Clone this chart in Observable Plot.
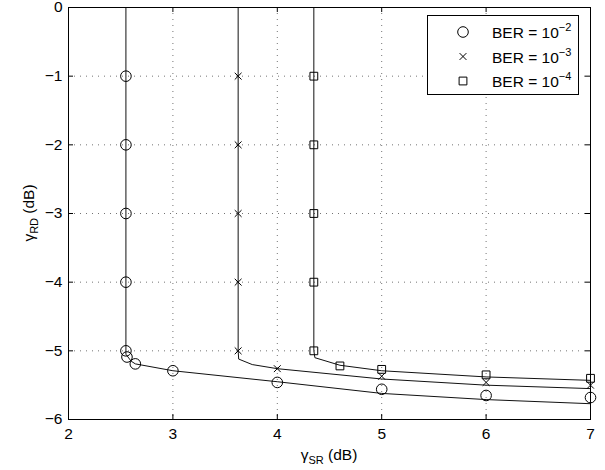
<!DOCTYPE html>
<html>
<head>
<meta charset="utf-8">
<script src="https://cdn.jsdelivr.net/npm/d3@7"></script>
<script src="https://cdn.jsdelivr.net/npm/@observablehq/plot@0.6"></script>
<style>
  html, body { margin: 0; padding: 0; background: #fff; }
  #chart svg { display: block; }
</style>
</head>
<body>
<div id="chart"></div>
<script>
// ---- data ----
const xTicks = [2, 3, 4, 5, 6, 7];
const yTicks = [-6, -5, -4, -3, -2, -1, 0];
const seriesNames = ["BER = 10^-2", "BER = 10^-3", "BER = 10^-4"];
const legendBase = ["BER = 10", "BER = 10", "BER = 10"];
const legendExp = ["\u22122", "\u22123", "\u22124"];
const symbols = ["circle", "times", "square"];

// theoretical curves
const line1X = [2.55, 2.55, 2.6, 2.64, 3, 4, 5, 6, 7];
const line1Y = [0, -5.05, -5.15, -5.19, -5.29, -5.45, -5.62, -5.71, -5.77];
const line2X = [3.625, 3.625, 3.63, 3.76, 4, 5, 6, 7];
const line2Y = [0, -5.0, -5.12, -5.2, -5.26, -5.41, -5.5, -5.55];
const line3X = [4.35, 4.35, 4.36, 4.6, 5, 6, 7];
const line3Y = [0, -5.0, -5.1, -5.21, -5.29, -5.38, -5.43];

// simulated markers
const mark1X = [2.55, 2.55, 2.55, 2.55, 2.55, 2.56, 2.64, 3, 4, 5, 6, 7];
const mark1Y = [-1, -2, -3, -4, -5, -5.09, -5.19, -5.29, -5.46, -5.56, -5.65, -5.68];
const mark2X = [3.625, 3.625, 3.625, 3.625, 3.625, 4, 5, 6, 7];
const mark2Y = [-1, -2, -3, -4, -5, -5.26, -5.37, -5.46, -5.5];
const mark3X = [4.35, 4.35, 4.35, 4.35, 4.35, 4.6, 5, 6, 7];
const mark3Y = [-1, -2, -3, -4, -5, -5.22, -5.27, -5.35, -5.4];

// ---- build tables ----
const lines = [];
[[line1X, line1Y], [line2X, line2Y], [line3X, line3Y]].forEach(([xs, ys], i) =>
  xs.forEach((x, j) => lines.push({s: seriesNames[i], x, y: ys[j]})));
const marks = [];
[[mark1X, mark1Y], [mark2X, mark2Y], [mark3X, mark3Y]].forEach(([xs, ys], i) =>
  xs.forEach((x, j) => marks.push({s: seriesNames[i], sym: symbols[i], x, y: ys[j]})));

const W = 605, H = 470, mL = 68, mR = 15, mT = 7, mB = 51;
const fw = W - mL - mR, fh = H - mT - mB;
const font = "'Liberation Sans', Arial, Helvetica, sans-serif";
const FS = 15.5, SFS = 11;
const symR = {circle: 5.3, times: 3.2, square: 4.4};
const fmt = d => d < 0 ? "\u2212" + (-d) : String(d);

const chart = Plot.plot({
  width: W, height: H,
  marginLeft: mL, marginRight: mR, marginTop: mT, marginBottom: mB,
  style: {fontFamily: font, fontSize: FS + "px", color: "#000", background: "#fff"},
  x: {domain: [2, 7], ticks: xTicks, label: null},
  y: {domain: [-6, 0], ticks: yTicks, label: null},
  marks: [
    Plot.gridX(xTicks, {stroke: "#000", strokeOpacity: 0.55, strokeDasharray: "1,5"}),
    Plot.gridY(yTicks, {stroke: "#000", strokeOpacity: 0.55, strokeDasharray: "1,5"}),
    // inward ticks on all four sides
    Plot.tickX(xTicks, {x: d => d, insetTop: fh - 5, stroke: "#000"}),
    Plot.tickX(xTicks, {x: d => d, insetBottom: fh - 5, stroke: "#000"}),
    Plot.tickY(yTicks, {y: d => d, insetRight: fw - 5, stroke: "#000"}),
    Plot.tickY(yTicks, {y: d => d, insetLeft: fw - 5, stroke: "#000"}),
    Plot.axisX(xTicks, {anchor: "bottom", tickSize: 0, tickPadding: 8, fontSize: FS, tickFormat: fmt}),
    Plot.axisY(yTicks, {anchor: "left", tickSize: 0, tickPadding: 6, fontSize: FS, tickFormat: fmt}),
    Plot.line(lines, {x: "x", y: "y", z: "s", stroke: "#111", strokeWidth: 1}),
    Plot.dot(marks.filter(d => d.sym === "circle"), {x: "x", y: "y", symbol: "circle", r: symR.circle, stroke: "#000", fill: "none", strokeWidth: 1}),
    Plot.dot(marks.filter(d => d.sym === "times"), {x: "x", y: "y", symbol: "times", r: symR.times, stroke: "#000", fill: "none", strokeWidth: 1}),
    Plot.dot(marks.filter(d => d.sym === "square"), {x: "x", y: "y", symbol: "square", r: symR.square, stroke: "#000", fill: "none", strokeWidth: 1}),
    Plot.frame({stroke: "#000", strokeWidth: 1})
  ]
});
document.getElementById("chart").appendChild(chart);

// ---- axis labels with subscripts ----
const svg = d3.select(chart);
const xl = svg.append("text")
  .attr("x", mL + fw / 2).attr("y", 460)
  .attr("text-anchor", "middle")
  .attr("font-family", font).attr("font-size", FS).attr("fill", "#000");
xl.append("tspan").text("\u03b3");
xl.append("tspan").attr("font-size", SFS).attr("dy", 4).text("SR");
xl.append("tspan").attr("dy", -4).text(" (dB)");

const yl = svg.append("text")
  .attr("transform", `translate(34,${mT + fh / 2}) rotate(-90)`)
  .attr("text-anchor", "middle")
  .attr("font-family", font).attr("font-size", FS).attr("fill", "#000");
yl.append("tspan").text("\u03b3");
yl.append("tspan").attr("font-size", SFS).attr("dy", 4).text("RD");
yl.append("tspan").attr("dy", -4).text(" (dB)");

// ---- legend ----
const lg = svg.append("g");
lg.append("rect").attr("x", 427.5).attr("y", 15.5).attr("width", 151).attr("height", 79)
  .attr("fill", "#fff").attr("stroke", "#000").attr("stroke-width", 1);
const symMap = {circle: d3.symbolCircle, times: d3.symbolTimes, square: d3.symbolSquare};
symbols.forEach((s, i) => {
  const cy = 32 + i * 24.5;
  lg.append("path")
    .attr("transform", `translate(463,${cy})`)
    .attr("d", d3.symbol(symMap[s], Math.PI * symR[s] * symR[s])())
    .attr("fill", "none").attr("stroke", "#000").attr("stroke-width", 1);
  const t = lg.append("text").attr("x", 492).attr("y", cy + 6)
    .attr("text-anchor", "start")
    .attr("font-family", font).attr("font-size", FS).attr("fill", "#000");
  t.append("tspan").text(legendBase[i]);
  t.append("tspan").attr("font-size", SFS).attr("dy", -7).text(legendExp[i]);
});
</script>
</body>
</html>
